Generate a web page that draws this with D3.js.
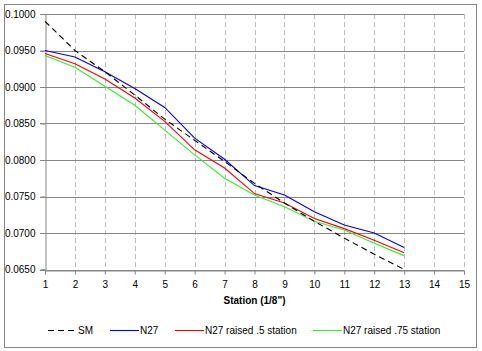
<!DOCTYPE html>
<html><head><meta charset="utf-8">
<script src="https://cdn.jsdelivr.net/npm/d3@7"></script>
<style>
body{margin:0;background:#fff;}
svg{display:block;font-family:"Liberation Sans",Arial,sans-serif;}
</style></head>
<body><svg id="c" width="482" height="351"></svg>
<script>
const stations = [1,2,3,4,5,6,7,8,9,10,11,12,13];
const xTicks = [1,2,3,4,5,6,7,8,9,10,11,12,13,14,15];
const yTicks = [0.065,0.070,0.075,0.080,0.085,0.090,0.095,0.100];
const sm      = [0.0990,0.0950,0.0921,0.0889,0.0856,0.0827,0.0798,0.0768,0.0741,0.0716,0.0693,0.0671,0.0650];
const n27     = [0.0950,0.0941,0.0921,0.0898,0.0872,0.0830,0.0801,0.0765,0.0752,0.0729,0.0711,0.0700,0.0680];
const n27r5   = [0.0946,0.0932,0.0911,0.0885,0.0853,0.0814,0.0789,0.0754,0.0741,0.0720,0.0706,0.0690,0.0673];
const n27r75  = [0.0943,0.0927,0.0901,0.0875,0.0841,0.0807,0.0775,0.0752,0.0736,0.0716,0.0704,0.0686,0.0669];
const seriesNames = ["SM","N27","N27 raised .5 station","N27 raised .75 station"];
const seriesColors = ["#000000","#0000ff","#ff0000","#33ee33"];
const seriesData = [sm,n27,n27r5,n27r75];

const svg = d3.select("#c");
const L=45,R=464,T=14,B=269.5;
const x = d3.scaleLinear().domain([1,15]).range([L,R]);
const y = d3.scaleLinear().domain([0.065,0.100]).range([B,T]);

// outer border
svg.append("rect").attr("x",4.5).attr("y",4.5).attr("width",472).attr("height",343)
  .attr("fill","#fff").attr("stroke","#868686").attr("stroke-width",1);

// vertical dashed grid
svg.append("g").selectAll("line").data(xTicks.slice(1)).join("line")
  .attr("x1",d=>Math.round(x(d))+0.5).attr("x2",d=>Math.round(x(d))+0.5)
  .attr("y1",T).attr("y2",B)
  .attr("stroke","#bdbdbd").attr("stroke-dasharray","5,3").attr("stroke-width",1);

// horizontal grid
svg.append("g").selectAll("line").data(yTicks).join("line")
  .attr("x1",L-5).attr("x2",R)
  .attr("y1",d=>Math.round(y(d))+0.5).attr("y2",d=>Math.round(y(d))+0.5)
  .attr("stroke","#868686").attr("stroke-width",1);

// y axis
const yAxis = d3.axisLeft(y).tickValues(yTicks).tickFormat(d3.format(".4f")).tickSize(5).tickPadding(5);
const gy = svg.append("g").attr("transform",`translate(${L+0.5},0)`).call(yAxis);
gy.selectAll("path,line").attr("stroke","#868686");
gy.selectAll("text").attr("font-size","10px").attr("fill","#000").attr("font-family","Liberation Sans,Arial,sans-serif");

// x axis
const xAxis = d3.axisBottom(x).tickValues(xTicks).tickFormat(d3.format("d")).tickSize(4).tickPadding(6);
const gx = svg.append("g").attr("transform",`translate(0,${Math.round(B)+0.5})`).call(xAxis);
gx.selectAll("path,line").attr("stroke","#868686");
gx.selectAll("text").attr("font-size","10px").attr("fill","#000").attr("font-family","Liberation Sans,Arial,sans-serif");

// axis title
svg.append("text").attr("x",(L+R)/2).attr("y",304).attr("text-anchor","middle")
  .attr("font-size","10px").attr("font-weight","bold").text('Station (1/8")');

// lines
const line = d3.line().x((d,i)=>x(stations[i])).y(d=>y(d));
const order = [1,2,3,0];
order.forEach(k=>{
  svg.append("path").datum(seriesData[k]).attr("d",line)
    .attr("fill","none").attr("stroke",seriesColors[k]).attr("stroke-width",1.1)
    .attr("stroke-dasharray",k===0?"6,4":null);
});

// legend
const legX = [48,110,175,313];
const lg = svg.append("g");
seriesNames.forEach((n,i)=>{
  lg.append("line").attr("x1",legX[i]).attr("x2",legX[i]+29).attr("y1",330.5).attr("y2",330.5)
    .attr("stroke",seriesColors[i]).attr("stroke-width",1.1).attr("stroke-dasharray",i===0?"6,4":null);
  lg.append("text").attr("x",legX[i]+30).attr("y",334).attr("font-size","10px").text(n);
});
</script></body></html>
